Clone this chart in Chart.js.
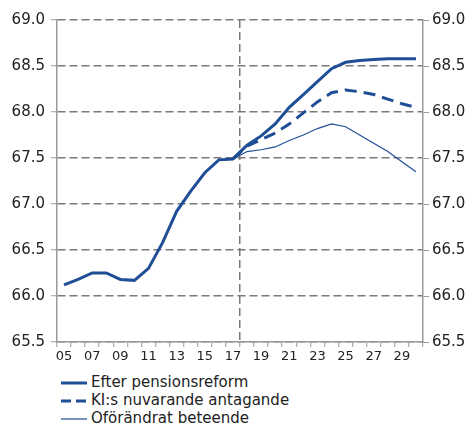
<!DOCTYPE html>
<html>
<head>
<meta charset="utf-8">
<script src="https://cdn.jsdelivr.net/npm/chart.js@4/dist/chart.umd.min.js"></script>
<style>
body { margin: 0; background: #fff; font-family: "DejaVu Sans", Verdana, sans-serif; }
#wrap { position: relative; width: 471px; height: 366px; }
#legend { position: absolute; left: 61px; top: 373px; font-size: 15px; color: #222; }
#legend div { height: 18px; line-height: 18px; white-space: nowrap; }
#legend svg { vertical-align: middle; margin-right: 4px; }
</style>
</head>
<body>
<div id="wrap"><canvas id="chart" width="471" height="366"></canvas></div>
<div id="legend"></div>
<script>
// Chart data
const years = ["05", "06", "07", "08", "09", "10", "11", "12", "13", "14", "15", "16", "17",
	"18", "19", "20", "21", "22", "23", "24", "25", "26", "27", "28", "29", "30"];
const efterReform = [66.12, 66.18, 66.25, 66.25, 66.18, 66.17, 66.30, 66.58, 66.92, 67.14, 67.34, 67.48, 67.49,
	67.64, 67.74, 67.87, 68.05, 68.19, 68.33, 68.47, 68.54, 68.56, 68.57, 68.58, 68.58, 68.58];
const kiAntagande = [null, null, null, null, null, null, null, null, null, null, null, null, 67.49,
	67.63, 67.70, 67.77, 67.87, 67.99, 68.11, 68.21, 68.24, 68.22, 68.19, 68.14, 68.09, 68.05];
const oforandrat = [null, null, null, null, null, null, null, null, null, null, null, null, 67.49,
	67.57, 67.59, 67.62, 67.69, 67.75, 67.82, 67.87, 67.84, 67.75, 67.66, 67.57, 67.46, 67.35];
const seriesNames = ["Efter pensionsreform", "KI:s nuvarande antagande", "Oförändrat beteende"];
const yMin = 65.5, yMax = 69.0, yStep = 0.5;
const splitAfter = "17";

// Styles
const blue = "#1F4E96";
const gridColor = "#7a7a7a";
const axisColor = "#9a9a9a";
const splitIndex = years.indexOf(splitAfter) + 1;

Chart.defaults.font.family = "'DejaVu Sans', Verdana, sans-serif";
Chart.defaults.color = "#222";

const yTicks = {
	stepSize: yStep,
	font: { size: 15 },
	callback: v => v.toFixed(1)
};

const chartAllInputs = {
	type: "line",
	data: {
		labels: years,
		datasets: [
			{ label: seriesNames[0], data: efterReform, borderColor: blue, borderWidth: 3, pointRadius: 0, tension: 0 },
			{ label: seriesNames[1], data: kiAntagande, borderColor: blue, borderWidth: 3, borderDash: [12, 7], pointRadius: 0, tension: 0 },
			{ label: seriesNames[2], data: oforandrat, borderColor: blue, borderWidth: 1.2, pointRadius: 0, tension: 0 }
		]
	},
	options: {
		responsive: false,
		animation: false,
		layout: { padding: { top: 20, left: 0, right: 0, bottom: 0 } },
		plugins: { legend: { display: false }, tooltip: { enabled: false } },
		scales: {
			x: {
				offset: true,
				afterFit: s => { s.height = 24; },
				grid: {
					offset: true,
					color: c => c.index === splitIndex ? gridColor : "transparent",
					lineWidth: 1.5,
					tickColor: axisColor,
					tickWidth: 1,
					tickLength: 5
				},
				border: { color: axisColor, width: 1.5, dash: [8, 4] },
				ticks: {
					autoSkip: false,
					maxRotation: 0,
					padding: 2,
					font: { size: 13 },
					callback: function(v, i) { return i % 2 === 0 ? this.getLabelForValue(v) : ""; }
				}
			},
			y: {
				position: "left",
				min: yMin, max: yMax,
				afterFit: s => { s.width = 57; },
				grid: { color: gridColor, lineWidth: 1.5, tickColor: axisColor, tickWidth: 1, tickLength: 6 },
				border: { color: axisColor, width: 1.5, dash: [8, 4] },
				ticks: Object.assign({ padding: 6 }, yTicks)
			},
			y1: {
				position: "right",
				min: yMin, max: yMax,
				afterFit: s => { s.width = 48; },
				grid: { drawOnChartArea: false, tickColor: axisColor, tickWidth: 1, tickLength: 6 },
				border: { color: axisColor, width: 1.5 },
				ticks: Object.assign({ padding: 3 }, yTicks)
			}
		}
	}
};

const chart = new Chart(document.getElementById("chart"), chartAllInputs);

// Legend below the chart, one series per row
const legendEl = document.getElementById("legend");
chart.data.datasets.forEach(ds => {
	const row = document.createElement("div");
	const dash = ds.borderDash ? ds.borderDash.join(",") : "none";
	row.innerHTML = '<svg width="26" height="6"><line x1="0" y1="3" x2="26" y2="3" stroke="' + ds.borderColor +
		'" stroke-width="' + ds.borderWidth + '" stroke-dasharray="' + (ds.borderDash ? "10,5" : "none") + '"/></svg>' +
		'<span></span>';
	row.querySelector("span").textContent = ds.label;
	legendEl.appendChild(row);
});
</script>
</body>
</html>
